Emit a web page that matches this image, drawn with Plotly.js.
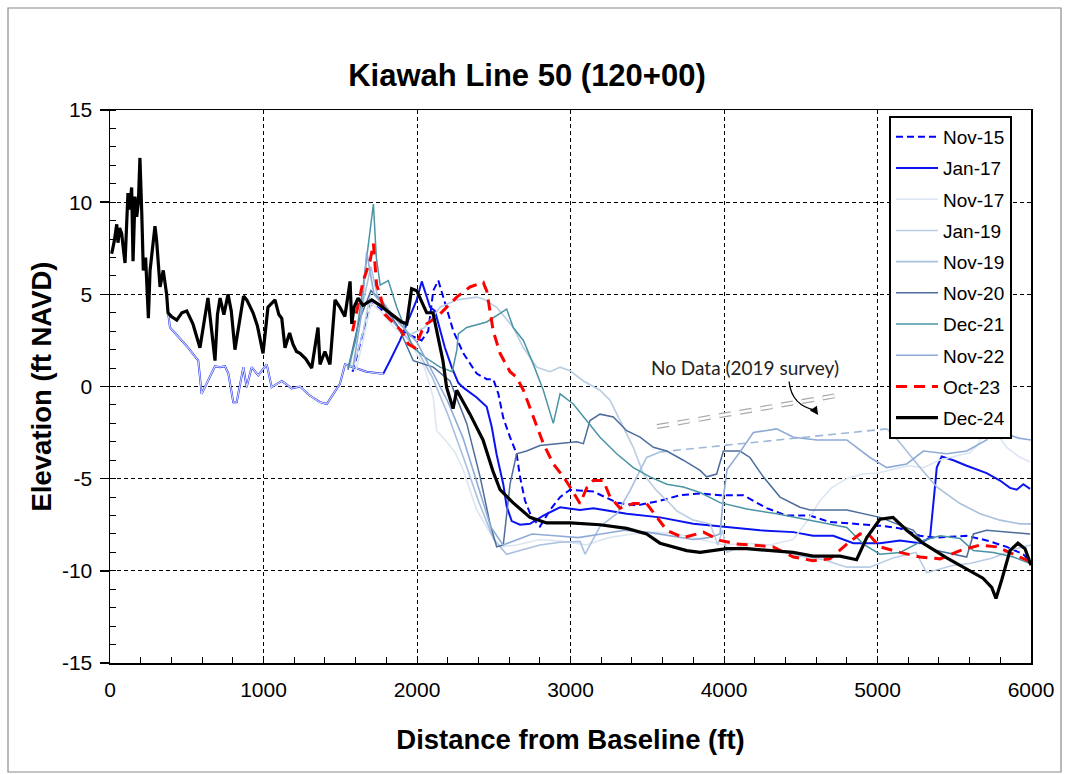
<!DOCTYPE html>
<html>
<head>
<meta charset="utf-8">
<script src="https://cdn.plot.ly/plotly-3.0.1.min.js"></script>
<style>html,body{margin:0;padding:0;background:#fff;}#chart{width:1067px;height:774px;}</style>
</head>
<body>
<div id="chart"></div>
<script>
// ---------- DATA (distance ft, elevation ft NAVD) ----------
const seriesNames = ['Nov-15','Jan-17','Nov-17','Jan-19','Nov-19','Nov-20','Dec-21','Nov-22','Oct-23','Dec-24'];

const nov15X = [1580,1650,1700,1800,1900,1950,2030,2073,2106,2139,2193,2237,2302,2389,2454,2497,2530,2562,2606,2649,2671,2704,2747,2801,2867,2932,2997,3149,3301,3431,3583,3713,3844,3974,4126,4278,4408,4560,4690,4843,5016,5147,5277,5386,5581,5711,5842,5950,5994];
const nov15Y = [0.8,3.0,4.5,4.0,3.0,2.8,2.5,3.0,5.2,5.75,4.3,3.0,1.8,0.7,0.4,0.4,-0.4,-1.7,-2.75,-3.65,-4.9,-6.2,-7.1,-7.6,-6.7,-6.0,-5.6,-5.7,-6.3,-6.45,-6.2,-5.9,-5.8,-5.9,-5.9,-6.6,-7.0,-7.0,-7.35,-7.45,-7.55,-7.7,-8.1,-8.2,-8.1,-8.35,-8.7,-9.1,-9.5];

const jan17X = [380,391,445,510,575,597,684,717,749,771,803,825,869,890,923,966,1021,1053,1119,1184,1238,1303,1368,1412,1498,1531,1564,1585,1672,1759,1781,1824,1889,1954,1998,2031,2052,2085,2117,2150,2182,2226,2269,2300,2389,2454,2487,2519,2562,2584,2617,2671,2736,2823,2932,3062,3149,3366,3583,3800,3974,4235,4452,4580,4712,4843,5016,5147,5277,5342,5368,5386,5418,5494,5581,5711,5798,5863,5907,5950,5994];
const jan17Y = [3.9,3.2,2.7,2.1,1.4,-0.4,1.1,1.05,1.1,0.7,-0.85,-0.85,1.05,-0.04,1.05,0.6,1.2,-0.04,0.3,-0.1,0.0,-0.5,-0.85,-0.95,0.15,1.2,1.1,1.05,0.8,0.7,0.7,1.4,2.5,3.8,4.7,5.7,5.2,4.3,4.1,3.0,2.1,1.05,0.2,-0.05,-0.6,-1.1,-2.2,-3.7,-5.3,-6.5,-7.3,-7.5,-7.45,-7.0,-6.55,-6.7,-6.6,-6.9,-7.1,-7.45,-7.6,-7.8,-7.9,-8.1,-8.1,-8.5,-8.5,-8.35,-8.5,-8.2,-6.0,-4.4,-3.8,-4.0,-4.3,-4.7,-5.1,-5.5,-5.6,-5.3,-5.55];

const nov17X = [1600,1650,1700,1750,1850,1950,2050,2106,2128,2193,2250,2300,2389,2480,2541,2650,2800,2950,3100,3250,3400,3550,3700,3850,4000,4150,4300,4450,4550,4625,4700,4800,4900,5000,5100,5200,5300,5400,5500,5600,5650,5711,5780,5842,5920,5994];
const nov17Y = [0.8,2.5,4.5,4.2,3.2,2.5,1.0,-0.6,-2.4,-3.0,-3.6,-4.5,-6.7,-8.0,-8.7,-8.6,-8.3,-8.4,-8.6,-8.2,-8.0,-7.9,-8.0,-8.3,-8.6,-8.5,-8.6,-8.3,-7.2,-6.2,-5.5,-5.0,-4.75,-4.7,-4.5,-4.3,-4.4,-4.0,-3.8,-3.6,-3.2,-2.2,-2.6,-3.3,-3.8,-4.1];

const jan19X = [1580,1650,1700,1760,1850,1950,2050,2150,2259,2389,2432,2519,2627,2693,2780,2867,2932,2997,3084,3192,3258,3344,3409,3475,3561,3648,3692,3800,3909,3960,3990,4020,4100,4200,4350,4500,4650,4800,4950,5100,5250,5320,5400,5494,5600,5750,5900,6000];
const jan19Y = [0.9,3.0,5.2,4.8,3.8,2.8,3.2,4.3,4.7,4.85,4.75,4.3,3.2,2.1,1.05,0.8,1.05,0.85,0.3,-0.2,-0.75,-2.2,-3.3,-4.75,-5.65,-6.35,-6.75,-7.25,-7.45,-8.6,-7.8,-9.0,-8.7,-8.8,-8.9,-9.2,-9.4,-9.8,-9.8,-9.3,-9.0,-10.1,-9.9,-9.7,-9.6,-9.3,-8.8,-8.6];

const nov19X = [1560,1620,1700,1740,1800,1900,2000,2100,2200,2300,2400,2500,2584,2671,2801,2932,3062,3095,3192,3301,3388,3453,3496,3583,null,5060,5101,5190,5277,5386,5538,5668,5798,5929,6000];
const nov19Y = [1.0,3.5,6.5,5.0,4.0,3.0,2.0,0.5,-1.5,-3.8,-6.2,-8.3,-9.1,-8.9,-8.6,-8.45,-8.4,-9.1,-7.6,-6.9,-5.65,-4.55,-3.85,-3.55,null,-2.3,-2.6,-3.5,-4.4,-5.45,-6.35,-6.9,-7.25,-7.45,-7.45];
const nov19GapX = [3583,5060];   // survey gap, drawn dashed
const nov19GapY = [-3.55,-2.3];

const nov20X = [1550,1620,1700,1780,1880,1976,2106,2215,2324,2411,2476,2519,2562,2606,2649,2714,2801,2910,3040,3084,3127,3192,3279,3366,3453,3540,3627,3735,3844,3887,3952,3996,4104,4169,4256,4365,4495,4560,4800,5016,5234,5299,5386,5581,5625,5711,5842,5994];
const nov20Y = [0.9,3.5,5.2,4.5,3.2,1.4,1.05,0.3,-2.0,-4.9,-7.45,-8.7,-8.6,-5.3,-3.65,-3.5,-3.2,-3.1,-3.0,-3.1,-1.85,-1.5,-1.65,-2.4,-2.75,-3.3,-3.5,-4.0,-4.55,-4.9,-4.75,-3.5,-3.5,-3.85,-4.9,-6.0,-6.55,-6.7,-6.7,-7.1,-7.8,-8.5,-8.9,-9.25,-8.0,-7.8,-7.9,-8.0];

const dec21X = [1550,1600,1650,1690,1716,1735,1760,1813,1868,1920,1976,2050,2150,2230,2260,2269,2324,2454,2584,2627,2693,2758,2823,2888,2932,3018,3106,3192,3301,3409,3518,3627,3735,3844,3974,4148,4343,4560,4800,4908,5016,5147,5299,5408,5538,5625,5755,5885,5994];
const dec21Y = [1.0,2.5,5.5,8.0,9.9,7.0,5.5,5.75,4.3,3.2,2.1,1.6,1.05,0.8,2.0,2.85,3.2,3.5,4.2,3.2,2.5,1.2,-0.2,-2.0,-0.4,-0.95,-1.85,-2.75,-3.65,-4.4,-4.9,-5.3,-5.45,-5.75,-6.3,-6.65,-6.9,-7.25,-7.65,-8.55,-9.1,-9.0,-8.35,-8.1,-8.25,-8.9,-9.0,-9.25,-9.6];

const nov22X = [1580,1640,1672,1720,1800,1900,2000,2100,2200,2300,2400,2480,2560,2650,2750,2900,3050,3200,3350,3500,3650,3800,3900,3974,3996,4020,4100,4191,4343,4452,4604,4800,4951,5060,5190,5299,5451,5581,5711,5777,5850,5920,6000];
const nov22Y = [0.9,4.0,7.3,5.0,4.2,3.3,2.4,0.8,-0.8,-2.8,-5.5,-7.6,-8.6,-8.3,-8.0,-8.1,-8.2,-8.0,-7.8,-7.9,-8.1,-8.3,-8.2,-8.0,-6.0,-4.5,-3.6,-2.5,-2.3,-2.75,-2.9,-2.9,-3.85,-4.4,-4.2,-3.5,-3.65,-3.5,-2.9,-1.7,-2.6,-2.8,-2.9];

const oct23X = [1580,1600,1650,1694,1716,1737,1759,1792,1850,1900,1944,1987,2031,2063,2128,2171,2259,2345,2432,2443,2454,2497,2541,2606,2649,2693,2758,2823,2888,2954,2997,3062,3106,3149,3214,3258,3323,3409,3496,3561,3627,3735,3866,3974,4083,4191,4321,4452,4580,4690,4800,4886,4951,5016,5147,5277,5408,5538,5668,5777,5885,5994];
const oct23Y = [3.0,3.8,5.75,6.8,7.75,5.5,5.0,3.9,3.4,3.0,2.3,2.1,3.0,3.4,3.75,4.1,4.85,5.4,5.65,5.4,5.2,3.0,1.8,0.8,0.5,-0.2,-1.65,-3.1,-4.2,-4.9,-5.45,-6.35,-5.5,-5.1,-5.1,-6.0,-6.6,-6.35,-6.35,-7.1,-7.8,-8.2,-7.9,-8.35,-8.55,-8.6,-8.7,-9.25,-9.45,-9.35,-8.55,-8.0,-8.1,-8.7,-9.0,-9.25,-9.35,-8.9,-8.6,-8.7,-9.1,-9.5];

const dec24X = [11,28,44,52,63,76,88,98,117,128,141,150,163,174,185,195,207,217,232,250,261,276,293,304,326,347,369,378,400,435,468,500,540,586,612,638,660,684,700,717,742,769,790,814,847,870,891,932,960,997,1029,1075,1100,1119,1140,1170,1192,1215,1238,1275,1314,1355,1368,1400,1433,1466,1498,1530,1564,1575,1590,1616,1648,1705,1759,1835,1900,1933,1965,1998,2020,2063,2104,2169,2193,2235,2259,2300,2345,2430,2495,2541,2625,2736,2845,2997,3192,3366,3496,3583,3757,3844,4018,4148,4278,4450,4580,4756,4864,4930,5016,5101,5190,5296,5451,5581,5687,5744,5772,5809,5863,5915,5961,6000];
const dec24Y = [7.2,7.9,8.8,7.8,8.6,8.3,7.4,6.7,10.5,9.6,10.8,6.8,10.3,9.2,10.0,12.4,9.4,6.3,7.0,3.7,6.3,7.6,8.7,7.9,5.4,6.3,5.0,4.0,3.8,3.6,4.0,4.1,3.4,2.1,3.6,4.8,3.2,1.4,3.9,4.8,3.9,5.0,4.1,2.0,3.7,4.9,4.7,4.0,3.3,1.8,4.3,4.7,3.9,3.7,2.1,2.9,2.3,1.9,1.8,1.5,1.0,3.2,1.2,1.9,1.2,4.7,4.3,3.8,5.7,3.4,4.3,4.8,4.4,4.7,4.4,3.9,3.5,3.4,5.3,5.2,4.8,4.0,4.0,1.4,-0.05,-1.2,-0.2,-0.8,-1.5,-2.9,-4.6,-5.6,-6.3,-7.1,-7.4,-7.4,-7.5,-7.7,-8.0,-8.5,-8.9,-9.0,-8.8,-8.8,-8.9,-9.0,-9.2,-9.2,-9.4,-8.2,-7.2,-7.1,-7.8,-8.5,-9.3,-9.9,-10.4,-10.9,-11.5,-10.5,-8.9,-8.5,-8.8,-9.7];

const xTickVals = [0,1000,2000,3000,4000,5000,6000];
const xTickLabels = ['0','1000','2000','3000','4000','5000','6000'];
const yTickVals = [-15,-10,-5,0,5,10,15];
const yTickLabels = ['-15','-10','-5','0','5','10','15'];

// ---------- STYLES ----------
const styles = {
  'Nov-15': {color:'#0000ff', width:2, dash:'7px,4px'},
  'Jan-17': {color:'#0a14f0', width:2, dash:'solid'},
  'Nov-17': {color:'#dce6f2', width:1.6, dash:'solid'},
  'Jan-19': {color:'#b9cde5', width:1.6, dash:'solid'},
  'Nov-19': {color:'#a9c0de', width:1.6, dash:'solid'},
  'Nov-20': {color:'#4d6d9c', width:1.5, dash:'solid'},
  'Dec-21': {color:'#4a94a4', width:1.5, dash:'solid'},
  'Nov-22': {color:'#8eaad6', width:1.6, dash:'solid'},
  'Oct-23': {color:'#ff0000', width:3, dash:'11px,7px'},
  'Dec-24': {color:'#000000', width:3.2, dash:'solid'}
};
const dataXY = {
  'Nov-15':[nov15X,nov15Y],'Jan-17':[jan17X,jan17Y],'Nov-17':[nov17X,nov17Y],'Jan-19':[jan19X,jan19Y],
  'Nov-19':[nov19X,nov19Y],'Nov-20':[nov20X,nov20Y],'Dec-21':[dec21X,dec21Y],'Nov-22':[nov22X,nov22Y],
  'Oct-23':[oct23X,oct23Y],'Dec-24':[dec24X,dec24Y]
};

const traces = [];
seriesNames.forEach((n,i)=>{
  const s = styles[n];
  traces.push({x:dataXY[n][0], y:dataXY[n][1], name:n, type:'scatter', mode:'lines',
    legendgroup:n, connectgaps:false,
    line:{color:s.color, width:s.width, dash:s.dash}});
  if(n==='Jan-17'){
    // lighter centre on the landward overlapping segment
    const lx=[], ly=[];
    jan17X.forEach((v,k)=>{ if(v<=1781){ lx.push(v); ly.push(jan17Y[k]); } });
    traces.push({x:lx, y:ly, type:'scatter', mode:'lines', showlegend:false, hoverinfo:'skip',
      legendgroup:n, line:{color:'#d0d9f7', width:1.2}});
  }
  if(n==='Nov-19'){
    traces.push({x:nov19GapX, y:nov19GapY, type:'scatter', mode:'lines', showlegend:false,
      hoverinfo:'skip', legendgroup:n, line:{color:'#9fb8da', width:1.6, dash:'8px,5px'}});
  }
});

const L=110, R=1031, T=110, B=663;
const pw=R-L, ph=B-T;
const px2x = p => (p-L)/pw;
const py2y = p => (B-p)/ph;

const layout = {
  width:1067, height:774,
  margin:{l:L, r:1067-R, t:T, b:774-B, pad:0},
  paper_bgcolor:'#ffffff', plot_bgcolor:'#ffffff',
  font:{family:'Liberation Sans, Arial, sans-serif', color:'#000'},
  title:{text:'<b>Kiawah Line 50 (120+00)</b>', font:{size:31, color:'#000'},
    x:px2x(527), xref:'paper', xanchor:'center', y:1-75/774, yref:'container', yanchor:'middle'},
  showlegend:true,
  legend:{x:px2x(889), y:py2y(116), xanchor:'left', yanchor:'top', bgcolor:'#ffffff',
    bordercolor:'#000', borderwidth:2, font:{size:19, family:'Liberation Sans, Arial, sans-serif'},
    tracegroupgap:3.5, itemwidth:42, traceorder:'grouped'},
  xaxis:{range:[0,6000], tickmode:'array', tickvals:xTickVals, ticktext:xTickLabels,
    showgrid:true, gridcolor:'#000', gridwidth:1, griddash:'4px,3px',
    showline:true, linecolor:'#000', linewidth:1.5, mirror:true,
    ticks:'inside', ticklen:6, tickwidth:1, tickcolor:'#000',
    tickfont:{size:21}, ticklabelstandoff:7, zeroline:false,
    minor:{dtick:200, tick0:0, ticks:'inside', ticklen:6, tickwidth:1, tickcolor:'#000', showgrid:false},
    title:{text:'<b>Distance from Baseline (ft)</b>', font:{size:27.5}, standoff:30}},
  yaxis:{range:[-15,15], tickmode:'array', tickvals:yTickVals, ticktext:yTickLabels,
    showgrid:true, gridcolor:'#000', gridwidth:1, griddash:'4px,3px',
    showline:true, linecolor:'#000', linewidth:1.5, mirror:true,
    ticks:'outside', ticklen:9, tickwidth:1.5, tickcolor:'#000',
    tickfont:{size:21}, ticklabelstandoff:3, zeroline:false,
    minor:{dtick:1, tick0:0, ticks:'inside', ticklen:6, tickwidth:1, tickcolor:'#000', showgrid:false},
    title:{text:'<b>Elevation (ft NAVD)</b>', font:{size:27.5}, standoff:2}},
  shapes:[
    {type:'rect', xref:'paper', yref:'paper', x0:px2x(8), x1:px2x(1061), y0:py2y(772), y1:py2y(8),
      line:{color:'#8a8a8a', width:1.2}, fillcolor:'rgba(0,0,0,0)', layer:'below'},
    {type:'line', xref:'x', yref:'y', x0:3564, y0:-2.17, x1:4775, y1:-0.43,
      line:{color:'#a8a8a8', width:5, dash:'12px,9px'}},
    {type:'line', xref:'x', yref:'y', x0:3564, y0:-2.17, x1:4775, y1:-0.43,
      line:{color:'#ffffff', width:2.6, dash:'12px,9px'}},
    {type:'path', xref:'x', yref:'y', path:'M4424,0.27 Q4440,-1.05 4600,-1.3',
      line:{color:'#000', width:1.3}}
  ],
  annotations:[
    {text:'No Data (2019 survey)', x:4137, y:1.03, xref:'x', yref:'y', showarrow:false,
      font:{family:'Lato, Open Sans, sans-serif', size:19, color:'#222'}},
    {text:'', x:4613, y:-1.55, xref:'x', yref:'y', showarrow:true, ax:-4, ay:-6,
      arrowhead:2, arrowsize:1.3, arrowwidth:1.3, arrowcolor:'#000'}
  ]
};

Plotly.newPlot('chart', traces, layout, {displayModeBar:false, staticPlot:true});
</script>
</body>
</html>
